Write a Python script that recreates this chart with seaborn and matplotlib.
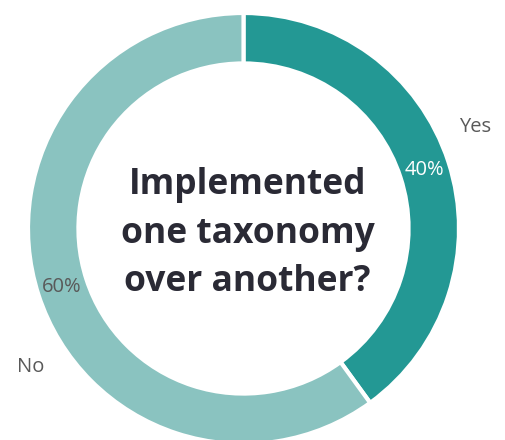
import matplotlib
matplotlib.use("Agg")
import matplotlib.pyplot as plt
import seaborn as sns
import numpy as np

categories = ["Yes", "No"]
values = [40, 60]
pct_labels = ["40%", "60%"]
center_title = "Implemented\none taxonomy\nover another?"

sns.set_theme(style="white")
plt.rcParams['font.family'] = ['Open Sans', 'DejaVu Sans']

colors = ["#239894", "#8AC3C0"]

W, H = 506, 440
fig = plt.figure(figsize=(W / 100, H / 100), dpi=100)
ax = fig.add_axes([0, 0, 1, 1])

cx, cy = 243.5, H - 228.5
R = 215.5
wedges, _ = ax.pie(values, colors=colors, startangle=90, counterclock=False,
                   radius=R, center=(cx, cy), frame=True,
                   wedgeprops=dict(width=R * 0.234, edgecolor='white', linewidth=3))
ax.set_xlim(0, W)
ax.set_ylim(0, H)
ax.set_aspect('equal')
ax.axis('off')

pct_colors = ["white", "#595959"]
for w, lab, col in zip(wedges, pct_labels, pct_colors):
    ang = np.deg2rad((w.theta1 + w.theta2) / 2)
    r = R * 0.885
    ax.text(cx + r * np.cos(ang), cy + r * np.sin(ang), lab, ha='center', va='center',
            fontsize=14.5, color=col)

# outside category labels
ax.text(475, H - 127, categories[0], ha='center', va='center', fontsize=14.5, color="#595959")
ax.text(31, H - 367, categories[1], ha='center', va='center', fontsize=14.5, color="#595959")

ax.text(cx + 4, cy - 5, center_title, ha='center', va='center', fontsize=25.5,
        fontweight='bold', color="#2A2A35", linespacing=1.45)

fig.savefig("out.png", dpi=100)
